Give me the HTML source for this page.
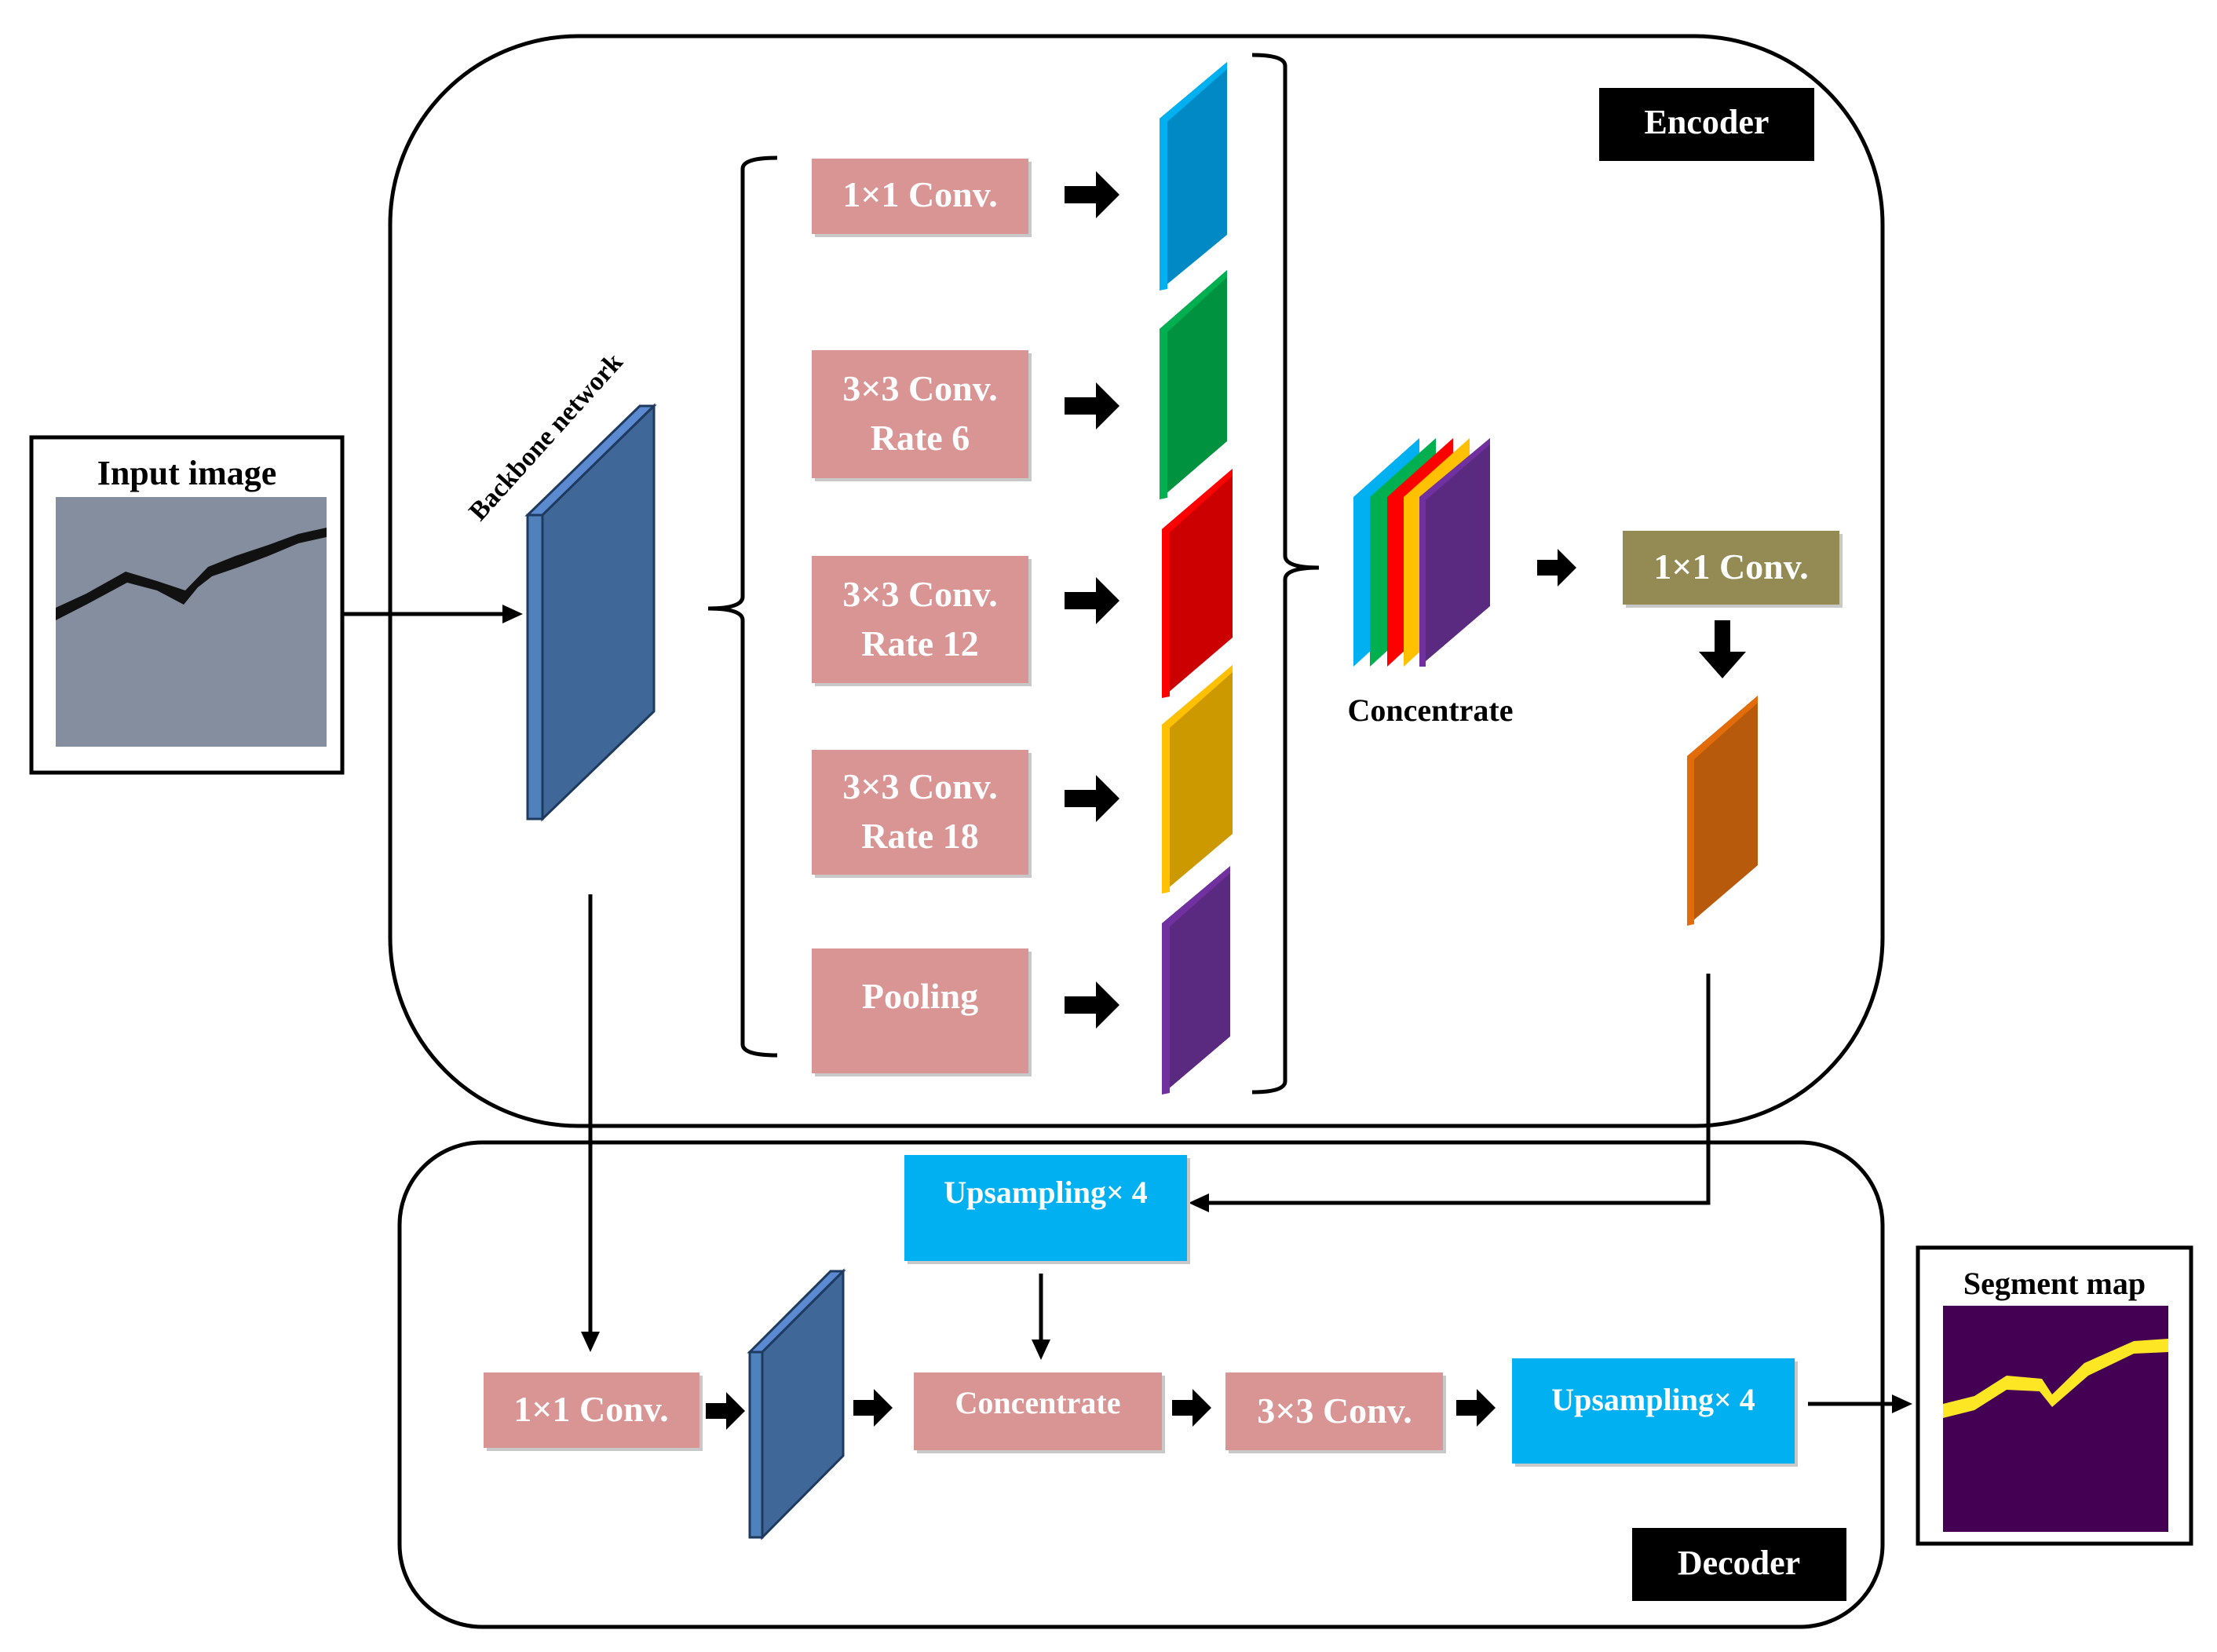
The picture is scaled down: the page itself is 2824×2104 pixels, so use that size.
<!DOCTYPE html>
<html><head><meta charset="utf-8"><style>html,body{margin:0;padding:0;background:#fff}svg{display:block}text{font-family:"Liberation Serif",serif;font-weight:bold}</style></head>
<body>
<svg width="2824" height="2104" viewBox="0 0 2824 2104" xmlns="http://www.w3.org/2000/svg">
<defs>
<path id="ba" d="M0,-11 L40,-11 L40,-30 L70,0 L40,30 L40,11 L0,11 Z" fill="#000"/>
<path id="bs" d="M0,-10 L26,-10 L26,-24 L50,0 L26,24 L26,10 L0,10 Z" fill="#000"/>
</defs>
<!-- encoder box -->
<rect x="497" y="46" width="1901" height="1388" rx="240" ry="240" fill="none" stroke="#000" stroke-width="5"/>
<!-- decoder box -->
<rect x="509" y="1455" width="1889" height="617" rx="105" ry="105" fill="none" stroke="#000" stroke-width="5"/>

<!-- input image -->
<rect x="40" y="557" width="396" height="427" fill="#fff" stroke="#000" stroke-width="5"/>
<text x="238" y="617" font-size="44" text-anchor="middle" fill="#000">Input image</text>
<rect x="71" y="633" width="345" height="318" fill="#7e8898"/>
<rect x="71" y="633" width="345" height="318" fill="#8b94a3" opacity="0.5"/>
<path d="M71,790 L110,770 L162,742 L200,752 L234,770 L252,748 L270,734 L305,722 L342,708 L380,692 L416,684 L416,672 L380,680 L342,694 L300,708 L265,722 L236,752 L200,740 L160,728 L110,756 L71,774 Z" fill="#111"/>
<line x1="436" y1="782" x2="650" y2="782" stroke="#000" stroke-width="5"/>
<path d="M640,770 L666,782 L640,794 Z" fill="#000"/>

<!-- backbone -->
<polygon points="672,656 815,517 833,517 691,656" fill="#5b8ad0" stroke="#1f3a5f" stroke-width="3"/>
<polygon points="672,656 691,656 691,1043 672,1043" fill="#4f81bd" stroke="#1f3a5f" stroke-width="3"/>
<polygon points="691,656 833,517 833,906 691,1043" fill="#3f6898" stroke="#1f3a5f" stroke-width="3"/>
<text x="0" y="0" font-size="34" fill="#000" transform="translate(612,665) rotate(-48)">Backbone network</text>

<!-- left bracket -->
<path d="M990,201 Q946,201 946,215 L946,760 Q946,775 902,775 Q946,775 946,790 L946,1330 Q946,1344 990,1344" fill="none" stroke="#000" stroke-width="5"/>

<!-- pink boxes -->
<g fill="#c8c8c8">
<rect x="1038" y="206" width="276" height="96"/>
<rect x="1038" y="450" width="276" height="163"/>
<rect x="1038" y="712" width="276" height="162"/>
<rect x="1038" y="959" width="276" height="159"/>
<rect x="1038" y="1212" width="276" height="159"/>
</g>
<g fill="#d99594">
<rect x="1034" y="202" width="276" height="96"/>
<rect x="1034" y="446" width="276" height="163"/>
<rect x="1034" y="708" width="276" height="162"/>
<rect x="1034" y="955" width="276" height="159"/>
<rect x="1034" y="1208" width="276" height="159"/>
</g>
<g fill="#fff" font-size="46" text-anchor="middle">
<text x="1172" y="263">1×1 Conv.</text>
<text x="1172" y="510">3×3 Conv.</text>
<text x="1172" y="573">Rate 6</text>
<text x="1172" y="772">3×3 Conv.</text>
<text x="1172" y="835">Rate 12</text>
<text x="1172" y="1017">3×3 Conv.</text>
<text x="1172" y="1080">Rate 18</text>
<text x="1172" y="1284">Pooling</text>
</g>
<use href="#ba" x="1356" y="248"/>
<use href="#ba" x="1356" y="517"/>
<use href="#ba" x="1356" y="765"/>
<use href="#ba" x="1356" y="1017"/>
<use href="#ba" x="1356" y="1280"/>

<!-- feature maps -->
<polygon points="1477,151 1563,79 1563,299 1477,370" fill="#0089c4"/>
<polygon points="1477,151 1563,79 1563,88 1487,155 1487,368 1477,370" fill="#00b0f0"/>
<polygon points="1477,419 1563,344 1563,562 1477,636" fill="#00923f"/>
<polygon points="1477,419 1563,344 1563,353 1487,423 1487,634 1477,636" fill="#00b050"/>
<polygon points="1480,674 1570,597 1570,812 1480,889" fill="#cc0000"/>
<polygon points="1480,674 1570,597 1570,606 1490,678 1490,887 1480,889" fill="#ff0000"/>
<polygon points="1480,923 1570,847 1570,1062 1480,1138" fill="#cc9900"/>
<polygon points="1480,923 1570,847 1570,856 1490,927 1490,1136 1480,1138" fill="#ffc000"/>
<polygon points="1480,1176 1567,1103 1567,1320 1480,1394" fill="#5a2a80"/>
<polygon points="1480,1176 1567,1103 1567,1112 1490,1180 1490,1392 1480,1394" fill="#7030a0"/>

<!-- right bracket -->
<path d="M1595,70 Q1637,70 1637,84 L1637,708 Q1637,723 1680,723 Q1637,723 1637,738 L1637,1377 Q1637,1391 1595,1391" fill="none" stroke="#000" stroke-width="5"/>

<!-- encoder label -->
<rect x="2037" y="112" width="274" height="93" fill="#000"/>
<text x="2174" y="170" font-size="44" fill="#fff" text-anchor="middle">Encoder</text>

<!-- concentrate stack -->
<polygon points="1724,633 1808,558 1808,772 1724,849" fill="#00b0f0"/>
<polygon points="1745,633 1829,558 1829,772 1745,849" fill="#00b050"/>
<polygon points="1767,633 1851,558 1851,772 1767,849" fill="#ff0000"/>
<polygon points="1788,633 1872,558 1872,772 1788,849" fill="#ffc000"/>
<polygon points="1808,633 1898,558 1898,772 1808,849" fill="#5a2a80"/>
<polygon points="1808,633 1898,558 1898,566 1816,637 1816,849 1808,849" fill="#7030a0"/>
<text x="1822" y="918" font-size="40" fill="#000" text-anchor="middle">Concentrate</text>
<use href="#bs" x="1958" y="723"/>

<!-- olive box -->
<rect x="2071" y="680" width="276" height="94" fill="#c8c8c8"/>
<rect x="2067" y="676" width="276" height="94" fill="#948a54"/>
<text x="2205" y="737" font-size="46" fill="#fff" text-anchor="middle">1×1 Conv.</text>
<path d="M2184,790 L2204,790 L2204,830 L2224,830 L2194,864 L2164,830 L2184,830 Z" fill="#000"/>

<!-- orange map -->
<polygon points="2149,963 2239,886 2239,1102 2149,1179" fill="#b85a0c"/>
<polygon points="2149,963 2239,886 2239,895 2158,967 2158,1177 2149,1179" fill="#e36c0a"/>

<!-- connector orange -> upsampling -->
<polyline points="2176,1240 2176,1532 1530,1532" fill="none" stroke="#000" stroke-width="5"/>
<path d="M1540,1520 L1514,1532 L1540,1544 Z" fill="#000"/>

<!-- backbone down line -->
<line x1="752" y1="1139" x2="752" y2="1705" stroke="#000" stroke-width="5"/>
<path d="M740,1696 L752,1722 L764,1696 Z" fill="#000"/>

<!-- upsampling 1 -->
<rect x="1156" y="1475" width="360" height="135" fill="#c8c8c8"/>
<rect x="1152" y="1471" width="360" height="135" fill="#00b0f0"/>
<text x="1332" y="1532" font-size="40" fill="#fff" text-anchor="middle">Upsampling× 4</text>
<line x1="1326" y1="1622" x2="1326" y2="1715" stroke="#000" stroke-width="5"/>
<path d="M1314,1706 L1326,1732 L1338,1706 Z" fill="#000"/>

<!-- decoder row -->
<rect x="620" y="1752" width="275" height="96" fill="#c8c8c8"/>
<rect x="616" y="1748" width="275" height="96" fill="#d99594"/>
<text x="753" y="1810" font-size="46" fill="#fff" text-anchor="middle">1×1 Conv.</text>
<use href="#bs" x="899" y="1797"/>
<polygon points="955,1722 1058,1619 1074,1619 971,1722" fill="#5b8ad0" stroke="#1f3a5f" stroke-width="3"/>
<polygon points="955,1722 971,1722 971,1958 955,1958" fill="#4f81bd" stroke="#1f3a5f" stroke-width="3"/>
<polygon points="971,1722 1074,1619 1074,1854 971,1958" fill="#3f6898" stroke="#1f3a5f" stroke-width="3"/>
<use href="#bs" x="1087" y="1793"/>
<rect x="1168" y="1752" width="316" height="99" fill="#c8c8c8"/>
<rect x="1164" y="1748" width="316" height="99" fill="#d99594"/>
<text x="1322" y="1800" font-size="40" fill="#fff" text-anchor="middle">Concentrate</text>
<use href="#bs" x="1493" y="1793"/>
<rect x="1565" y="1752" width="277" height="99" fill="#c8c8c8"/>
<rect x="1561" y="1748" width="277" height="99" fill="#d99594"/>
<text x="1700" y="1812" font-size="46" fill="#fff" text-anchor="middle">3×3 Conv.</text>
<use href="#bs" x="1855" y="1793"/>
<rect x="1930" y="1734" width="360" height="134" fill="#c8c8c8"/>
<rect x="1926" y="1730" width="360" height="134" fill="#00b0f0"/>
<text x="2106" y="1796" font-size="40" fill="#fff" text-anchor="middle">Upsampling× 4</text>
<line x1="2303" y1="1788" x2="2418" y2="1788" stroke="#000" stroke-width="5"/>
<path d="M2410,1776 L2436,1788 L2410,1800 Z" fill="#000"/>

<!-- decoder label -->
<rect x="2079" y="1946" width="273" height="93" fill="#000"/>
<text x="2215" y="2005" font-size="44" fill="#fff" text-anchor="middle">Decoder</text>

<!-- segment map -->
<rect x="2443" y="1589" width="348" height="377" fill="#fff" stroke="#000" stroke-width="5"/>
<text x="2617" y="1648" font-size="40" fill="#000" text-anchor="middle">Segment map</text>
<rect x="2475" y="1663" width="287" height="288" fill="#440154"/>
<path d="M2475,1788 L2515,1778 L2556,1752 L2601,1756 L2614,1776 L2655,1736 L2718,1708 L2762,1705 L2762,1722 L2718,1724 L2660,1752 L2614,1792 L2598,1772 L2556,1770 L2515,1796 L2475,1806 Z" fill="#fde725"/>
</svg>
</body></html>
